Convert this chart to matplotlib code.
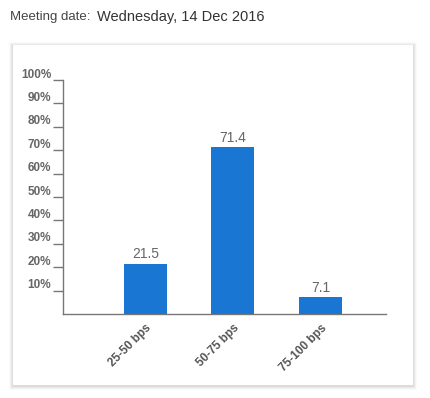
import numpy as np
import matplotlib.pyplot as plt
import matplotlib.transforms as mtransforms
from matplotlib.patches import Rectangle
from matplotlib import patheffects as pe

categories = ['25-50 bps', '50-75 bps', '75-100 bps']
values = [21.5, 71.4, 7.1]
yticks = [10, 20, 30, 40, 50, 60, 70, 80, 90, 100]
ytick_labels = ['10%', '20%', '30%', '40%', '50%', '60%', '70%', '80%', '90%', '100%']

W, H = 431, 398
fig = plt.figure(figsize=(W / 100, H / 100), dpi=100)
fig.patch.set_facecolor('white')
plt.rcParams['font.family'] = ['Arial', 'Liberation Sans', 'DejaVu Sans']

# card with a soft shadow
cx0, cy0, cx1, cy1 = 13, 45, 413, 385
for i, a in enumerate([0.02, 0.03, 0.04, 0.05]):
    d = 4 - i
    fig.patches.append(Rectangle(((cx0 - d) / W, 1 - (cy1 + d + 1) / H),
                                 (cx1 - cx0 + 2 * d) / W, (cy1 - cy0 + 2 * d) / H,
                                 transform=fig.transFigure, facecolor='black',
                                 alpha=a, edgecolor='none', zorder=0))
fig.patches.append(Rectangle((cx0 / W, 1 - cy1 / H), (cx1 - cx0) / W, (cy1 - cy0) / H,
                             transform=fig.transFigure, facecolor='white',
                             edgecolor='none', zorder=1))

# header
fig.text(10 / W, 1 - 17 / H, 'Meeting date:', fontsize=9.5, color='#444444',
         va='center', ha='left')
fig.text(97 / W, 1 - 17 / H, 'Wednesday, 14 Dec 2016', fontsize=10.5, color='#333333',
         va='center', ha='left')

# plot area: x 63..386, y 80..314 px
ax = fig.add_axes([63 / W, 1 - 314 / H, (386 - 63) / W, (314 - 80) / H], zorder=2)
ax.patch.set_alpha(0)

x = np.arange(len(categories))
bars = ax.bar(x, values, width=0.49, color='#1976D2', zorder=3)
for b in bars:
    b.set_path_effects([pe.SimplePatchShadow(offset=(0, -1), shadow_rgbFace='black',
                                             alpha=0.12), pe.Normal()])
for xi, v in zip(x, values):
    ax.text(xi, v + 1.0, f'{v}', ha='center', va='bottom', fontsize=10, color='#666666')

ax.set_xlim(-0.94, 2.75)
ax.set_ylim(0, 100)

for s in ['top', 'right']:
    ax.spines[s].set_visible(False)
for s in ['left', 'bottom']:
    ax.spines[s].set_color('#777777')
    ax.spines[s].set_linewidth(1)

ax.set_yticks(yticks)
ax.set_yticklabels(ytick_labels, fontsize=8.5, fontweight='bold', color='#666666')
ax.tick_params(axis='y', length=7.5, width=1, color='#777777', pad=1)
offset = mtransforms.ScaledTranslation(0, 5 / 72, fig.dpi_scale_trans)
for lab in ax.get_yticklabels():
    lab.set_transform(lab.get_transform() + offset)

ax.set_xticks(x)
ax.set_xticklabels(categories, fontsize=8.5, fontweight='bold', color='#555555',
                   rotation=45, ha='right', rotation_mode='anchor')
ax.tick_params(axis='x', length=0, pad=6)

fig.savefig('out.png', dpi=100)
